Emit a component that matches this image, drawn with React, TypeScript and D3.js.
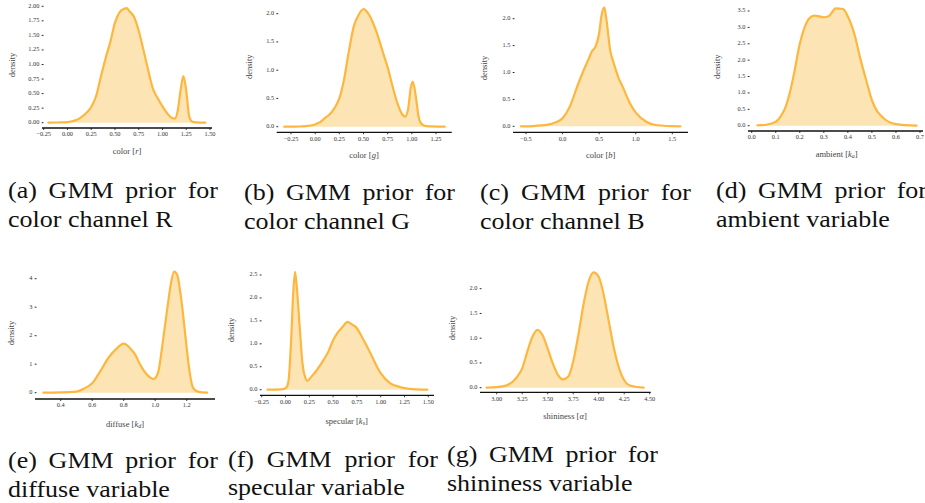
import * as d3 from 'd3';
import { useRef, useEffect } from 'react';

const W = 925;
const H = 503;

// density curves
const rX = [-0.2, -0.1, 0.0, 0.05, 0.1, 0.15, 0.2, 0.25, 0.3, 0.35, 0.4, 0.45, 0.5, 0.55, 0.6, 0.625, 0.65, 0.7, 0.75, 0.8, 0.85, 0.9, 0.95, 1.0, 1.05, 1.1, 1.13, 1.16, 1.19, 1.22, 1.25, 1.28, 1.31, 1.35, 1.45];
const rY = [0, 0.003, 0.01, 0.025, 0.05, 0.1, 0.17, 0.27, 0.45, 0.78, 1.1, 1.38, 1.72, 1.9, 1.96, 1.97, 1.92, 1.82, 1.58, 1.25, 0.9, 0.58, 0.42, 0.28, 0.16, 0.08, 0.07, 0.2, 0.55, 0.8, 0.55, 0.12, 0.02, 0.005, 0];

const gX = [-0.32, -0.2, -0.1, 0.0, 0.05, 0.1, 0.15, 0.2, 0.25, 0.3, 0.35, 0.4, 0.45, 0.5, 0.55, 0.6, 0.65, 0.7, 0.75, 0.8, 0.85, 0.9, 0.93, 0.96, 0.99, 1.01, 1.04, 1.07, 1.1, 1.15, 1.34];
const gY = [0, 0.003, 0.01, 0.04, 0.08, 0.15, 0.22, 0.33, 0.5, 0.85, 1.35, 1.78, 1.98, 2.08, 2.0, 1.83, 1.6, 1.32, 1.05, 0.72, 0.42, 0.22, 0.18, 0.3, 0.7, 0.8, 0.55, 0.18, 0.05, 0.01, 0];

const bX = [-0.57, -0.4, -0.2, -0.1, 0.0, 0.1, 0.2, 0.3, 0.35, 0.4, 0.45, 0.5, 0.53, 0.57, 0.6, 0.65, 0.7, 0.76, 0.83, 0.92, 1.01, 1.15, 1.29, 1.61];
const bY = [0, 0.005, 0.03, 0.07, 0.15, 0.37, 0.74, 1.08, 1.23, 1.39, 1.48, 1.73, 2.04, 2.21, 1.98, 1.42, 1.17, 0.92, 0.71, 0.43, 0.24, 0.08, 0.02, 0];

const ambX = [0.024, 0.06, 0.1, 0.12, 0.14, 0.16, 0.175, 0.2, 0.22, 0.24, 0.26, 0.3, 0.32, 0.35, 0.38, 0.4, 0.43, 0.45, 0.48, 0.5, 0.55, 0.6, 0.686];
const ambY = [0.01, 0.03, 0.12, 0.28, 0.55, 1.05, 1.55, 2.5, 3.0, 3.28, 3.36, 3.31, 3.34, 3.58, 3.56, 3.33, 2.72, 2.1, 1.29, 0.78, 0.22, 0.05, 0];

const difX = [0.29, 0.4, 0.5, 0.55, 0.6, 0.65, 0.7, 0.75, 0.8, 0.85, 0.875, 0.9, 0.95, 0.99, 1.02, 1.04, 1.06, 1.08, 1.1, 1.12, 1.14, 1.16, 1.18, 1.2, 1.22, 1.24, 1.27, 1.33];
const difY = [0, 0.01, 0.035, 0.15, 0.33, 0.74, 1.2, 1.52, 1.72, 1.5, 1.32, 1.03, 0.62, 0.48, 0.74, 1.44, 2.26, 3.08, 3.84, 4.25, 4.13, 3.5, 2.6, 1.56, 0.68, 0.18, 0.04, 0];

const specX = [-0.19, -0.05, 0.0, 0.03, 0.06, 0.08, 0.1, 0.12, 0.15, 0.18, 0.21, 0.23, 0.27, 0.33, 0.4, 0.45, 0.5, 0.55, 0.6, 0.65, 0.7, 0.75, 0.8, 0.85, 0.9, 1.0, 1.1, 1.2, 1.3, 1.49];
const specY = [0, 0.005, 0.03, 0.17, 1.12, 2.06, 2.57, 2.2, 1.34, 0.54, 0.25, 0.19, 0.28, 0.43, 0.65, 0.83, 1.08, 1.25, 1.37, 1.48, 1.42, 1.34, 1.16, 0.97, 0.76, 0.36, 0.14, 0.06, 0.02, 0];

const shinX = [2.9, 3.0, 3.1, 3.2, 3.25, 3.3, 3.35, 3.4, 3.45, 3.5, 3.55, 3.6, 3.65, 3.7, 3.75, 3.8, 3.85, 3.9, 3.95, 4.0, 4.05, 4.1, 4.15, 4.2, 4.25, 4.3, 4.44];
const shinY = [0, 0.01, 0.05, 0.22, 0.39, 0.73, 1.03, 1.17, 1.06, 0.79, 0.49, 0.26, 0.17, 0.22, 0.53, 1.06, 1.67, 2.14, 2.33, 2.24, 1.87, 1.33, 0.79, 0.39, 0.15, 0.05, 0];

// tick labels
const ticksR = { x: [-0.25, 0, 0.25, 0.5, 0.75, 1.0, 1.25, 1.5], y: [0, 0.25, 0.5, 0.75, 1.0, 1.25, 1.5, 1.75, 2.0] };
const ticksG = { x: [-0.25, 0, 0.25, 0.5, 0.75, 1.0, 1.25], y: [0, 0.5, 1.0, 1.5, 2.0] };
const ticksB = { x: [-0.5, 0, 0.5, 1.0, 1.5], y: [0, 0.5, 1.0, 1.5, 2.0] };
const ticksAmb = { x: [0, 0.1, 0.2, 0.3, 0.4, 0.5, 0.6, 0.7], y: [0, 0.5, 1.0, 1.5, 2.0, 2.5, 3.0, 3.5] };
const ticksDif = { x: [0.4, 0.6, 0.8, 1.0, 1.2], y: [0, 1, 2, 3, 4] };
const ticksSpec = { x: [-0.25, 0, 0.25, 0.5, 0.75, 1.0, 1.25, 1.5], y: [0, 0.5, 1.0, 1.5, 2.0, 2.5] };
const ticksShin = { x: [3.0, 3.25, 3.5, 3.75, 4.0, 4.25, 4.5], y: [0, 0.5, 1.0, 1.5, 2.0] };

// axis labels: [plain text, italic symbol, subscript]
const xLabels = [
  ['color [', 'r', ''],
  ['color [', 'g', ''],
  ['color [', 'b', ''],
  ['ambient [', 'k', 'a'],
  ['diffuse [', 'k', 'd'],
  ['specular [', 'k', 's'],
  ['shininess [', 'α', ''],
];

const captions = [
  ['(a) GMM prior for', 'color channel R'],
  ['(b) GMM prior for', 'color channel G'],
  ['(c) GMM prior for', 'color channel B'],
  ['(d) GMM prior for', 'ambient variable'],
  ['(e) GMM prior for', 'diffuse variable'],
  ['(f) GMM prior for', 'specular variable'],
  ['(g) GMM prior for', 'shininess variable'],
];

// pixel layout of each subplot: tick-range to pixel, spine, labels, caption box
const layout = [
  { px: [43.7, 210], py: [122.7, 6.3], spine: [42, 212, 128], lab: [127, 152], dens: [13, 65], cap: [8, 218, 198, 227], xf: '.2f', yf: '.2f' },
  { px: [291, 436], py: [126.7, 13.7], spine: [276.7, 451.7, 132.3], lab: [364, 155.7], dens: [250, 66.7], cap: [244, 455, 200, 229], xf: '.2f', yf: '.1f' },
  { px: [526, 672.3], py: [126.3, 18.7], spine: [513, 688, 132.3], lab: [600.7, 155.7], dens: [485, 68], cap: [480, 691, 200, 229], xf: '.1f', yf: '.1f' },
  { px: [751.7, 920], py: [125.7, 11], spine: [748, 923, 131], lab: [836.7, 155], dens: [718, 66.7], cap: [716, 927, 198, 227], xf: '.1f', yf: '.1f' },
  { px: [60.7, 186.7], py: [392.7, 278.7], spine: [35, 215, 399], lab: [125, 425], dens: [11.7, 333], cap: [8, 218, 468, 497], xf: '.1f', yf: 'd' },
  { px: [261.7, 428.3], py: [389.7, 275], spine: [260, 434, 395.3], lab: [346.7, 421.7], dens: [231.7, 330], cap: [228, 438, 467, 495], xf: '.2f', yf: '.1f' },
  { px: [496.7, 649.7], py: [387.7, 288.7], spine: [480, 650.7, 392.3], lab: [565, 416.7], dens: [453.3, 328], cap: [447, 658, 462, 491], xf: '.2f', yf: '.1f' },
];

const series = [
  [rX, rY, ticksR],
  [gX, gY, ticksG],
  [bX, bY, ticksB],
  [ambX, ambY, ticksAmb],
  [difX, difY, ticksDif],
  [specX, specY, ticksSpec],
  [shinX, shinY, ticksShin],
];

const LINE = '#fdb73e';
const FILL = '#fde4b4';
const SERIF = "'Liberation Serif', 'DejaVu Serif', serif";

function App() {
  const svgRef = useRef<SVGSVGElement>(null);

  useEffect(() => {
    const svg = d3.select(svgRef.current);
    svg.selectAll('*').remove();

    series.forEach(([xs, ys, ticks], i) => {
      const L = layout[i];
      const g = svg.append('g').style('font-family', SERIF);
      const x = d3.scaleLinear()
        .domain([ticks.x[0], ticks.x[ticks.x.length - 1]])
        .range(L.px);
      const y = d3.scaleLinear()
        .domain([ticks.y[0], ticks.y[ticks.y.length - 1]])
        .range(L.py);
      const pts = xs.map((v, k) => [v, ys[k]]);

      const area = d3.area<number[]>()
        .x(d => x(d[0]))
        .y0(y(0))
        .y1(d => y(d[1]))
        .curve(d3.curveMonotoneX);
      const line = d3.line<number[]>()
        .x(d => x(d[0]))
        .y(d => y(d[1]))
        .curve(d3.curveMonotoneX);

      g.append('path').attr('d', area(pts)).attr('fill', FILL);
      g.append('path').attr('d', line(pts))
        .attr('fill', 'none')
        .attr('stroke', LINE)
        .attr('stroke-width', 2.2)
        .attr('stroke-linejoin', 'round')
        .attr('stroke-linecap', 'round');

      // bottom spine
      const [sx0, sx1, sy] = L.spine;
      g.append('line')
        .attr('x1', sx0).attr('x2', sx1).attr('y1', sy).attr('y2', sy)
        .attr('stroke', '#111').attr('stroke-width', 1.3);

      const xf = d3.format(L.xf);
      const yf = d3.format(L.yf);

      ticks.x.forEach(t => {
        g.append('line')
          .attr('x1', x(t)).attr('x2', x(t))
          .attr('y1', sy).attr('y2', sy + 2)
          .attr('stroke', '#111').attr('stroke-width', 0.8);
        g.append('text')
          .attr('x', x(t)).attr('y', sy + 6.8)
          .attr('text-anchor', 'middle')
          .attr('dominant-baseline', 'middle')
          .style('font-size', '6.3px')
          .attr('fill', '#333')
          .text(xf(t));
      });

      ticks.y.forEach(t => {
        g.append('line')
          .attr('x1', sx0 - 0.3).attr('x2', sx0 + 1.5)
          .attr('y1', y(t)).attr('y2', y(t))
          .attr('stroke', '#111').attr('stroke-width', 0.9);
        g.append('text')
          .attr('x', sx0 - 2.6).attr('y', y(t))
          .attr('text-anchor', 'end')
          .attr('dominant-baseline', 'middle')
          .style('font-size', '6.3px')
          .attr('fill', '#333')
          .text(yf(t));
      });

      // axis titles
      const [plain, sym, sub] = xLabels[i];
      const lt = g.append('text')
        .attr('x', L.lab[0]).attr('y', L.lab[1])
        .attr('text-anchor', 'middle')
        .attr('dominant-baseline', 'middle')
        .style('font-size', '8.5px')
        .attr('fill', '#444');
      lt.append('tspan').text(plain);
      lt.append('tspan').style('font-style', 'italic').text(sym);
      if (sub) {
        lt.append('tspan').style('font-style', 'italic').style('font-size', '6px')
          .attr('dy', 2).text(sub);
        lt.append('tspan').attr('dy', -2).text(']');
      } else {
        lt.append('tspan').text(']');
      }

      g.append('text')
        .attr('transform', `translate(${L.dens[0]},${L.dens[1]}) rotate(-90)`)
        .attr('text-anchor', 'middle')
        .attr('dominant-baseline', 'middle')
        .style('font-size', '8.5px')
        .attr('fill', '#444')
        .text('density');

      // caption, first line justified like LaTeX
      const [c0, c1, cy1, cy2] = L.cap;
      const words = captions[i][0].split(' ');
      const stretch = 1.13;
      const nodes = words.map(w => g.append('text')
        .attr('y', cy1)
        .style('font-size', '23px')
        .attr('fill', '#111')
        .text(w));
      const widths = nodes.map(n => (n.node() as SVGTextElement).getComputedTextLength() * stretch);
      nodes.forEach((n, k) => n.attr('textLength', widths[k]).attr('lengthAdjust', 'spacingAndGlyphs'));
      const gap = (c1 - c0 - d3.sum(widths)) / (words.length - 1);
      let cx = c0;
      nodes.forEach((n, k) => { n.attr('x', cx); cx += widths[k] + gap; });

      const l2 = g.append('text')
        .attr('x', c0).attr('y', cy2)
        .style('font-size', '23px')
        .attr('fill', '#111')
        .text(captions[i][1]);
      const w2 = (l2.node() as SVGTextElement).getComputedTextLength() * stretch;
      l2.attr('textLength', w2).attr('lengthAdjust', 'spacingAndGlyphs');
    });
  }, []);

  return (
    <svg ref={svgRef} width={W} height={H}
      style={{ position: 'absolute', left: 0, top: 0, background: '#fff' }} />
  );
}

export default App;
